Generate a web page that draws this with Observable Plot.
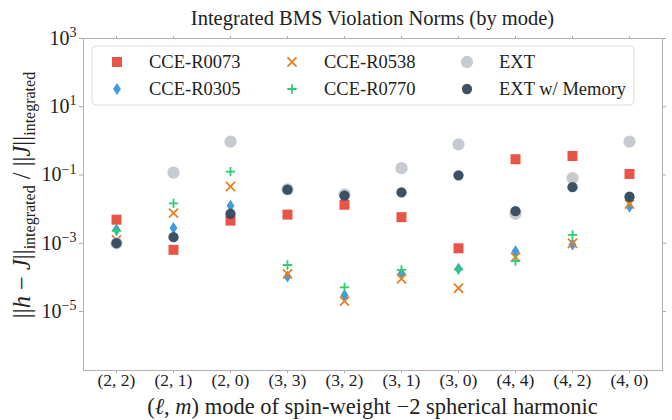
<!DOCTYPE html>
<html><head><meta charset="utf-8">
<script src="https://cdn.jsdelivr.net/npm/d3@7"></script>
<script src="https://cdn.jsdelivr.net/npm/@observablehq/plot@0.6"></script>
<style>
body{margin:0;background:#fff;}
#wrap{width:672px;height:420px;}
</style></head><body><div id="wrap"></div>
<script>
// ---- data ----
const modes = ["(2, 2)","(2, 1)","(2, 0)","(3, 3)","(3, 2)","(3, 1)","(3, 0)","(4, 4)","(4, 2)","(4, 0)"];
const cceR0073 = [4.9e-3, 6.4e-4, 4.6e-3, 6.9e-3, 1.34e-2, 5.8e-3, 7.1e-4, 0.29, 0.36, 0.107];
const cceR0305 = [2.5e-3, 2.8e-3, 1.25e-2, 1.06e-4, 3.0e-5, 1.3e-4, 1.78e-4, 5.8e-4, 9.2e-4, 1.17e-2];
const cceR0538 = [1.26e-3, 7.6e-3, 4.6e-2, 1.27e-4, 2.0e-5, 9.1e-5, 4.8e-5, 3.9e-4, 1.0e-3, 1.4e-2];
const cceR0770 = [2.3e-3, 1.48e-2, 0.126, 2.3e-4, 5.1e-5, 1.65e-4, 1.7e-4, 3.0e-4, 1.76e-3, 2.2e-2];
const ext = [1.0e-3, 0.117, 0.95, 0.038, 0.027, 0.158, 0.79, 7.3e-3, 0.081, 0.95];
const extMemory = [1.0e-3, 1.5e-3, 7.3e-3, 0.037, 0.025, 0.031, 0.098, 8.7e-3, 0.044, 0.023];
const yTicks = [1e3, 1e1, 1e-1, 1e-3, 1e-5];
const seriesNames = ["CCE-R0073","CCE-R0305","CCE-R0538","CCE-R0770","EXT","EXT w/ Memory"];

// ---- styles ----
const thinDiamond = {draw(ctx, size){ const h = Math.sqrt(size/1.3), w = 0.65*h;
  ctx.moveTo(0,-h); ctx.lineTo(w,0); ctx.lineTo(0,h); ctx.lineTo(-w,0); ctx.closePath(); }};
const styles = [
  {symbol: d3.symbolSquare, color:"#e74c3c", r:5.64, filled:true},
  {symbol: thinDiamond,     color:"#3498db", r:3.9,  filled:true},
  {symbol: d3.symbolTimes,  color:"#e67e22", r:4.2,  filled:false},
  {symbol: d3.symbolPlus,   color:"#2ecc71", r:3.1,  filled:false},
  {symbol: d3.symbolCircle, color:"#c3c8cf", r:6.15, filled:true},
  {symbol: d3.symbolCircle, color:"#34495e", r:5.15, filled:true}
];
const valuesList = [cceR0073, cceR0305, cceR0538, cceR0770, ext, extMemory];

const FONT = "'Liberation Serif', 'DejaVu Serif', serif";
const expOf = v => Math.round(Math.log10(v));

const dotMarks = valuesList.map((vals, k) => {
  const s = styles[k];
  const rows = modes.map((m, i) => ({mode: m, value: vals[i], series: seriesNames[k]}));
  return Plot.dot(rows, {x: "mode", y: "value", symbol: s.symbol, r: s.r,
    fill: s.filled ? s.color : "none", stroke: s.filled ? "none" : s.color,
    strokeWidth: s.filled ? 0 : 1.8, fillOpacity: 0.95});
});

const axisColor = "#aaaaaa";
const chart = Plot.plot({
  width: 672, height: 420,
  marginLeft: 83, marginRight: 10, marginTop: 38, marginBottom: 50,
  style: {fontFamily: FONT, background: "white", color: "#222"},
  x: {type: "point", domain: modes, padding: 0.53, label: null},
  y: {type: "log", domain: [Math.pow(10, -6.73), 1e3], label: null},
  marks: [
    Plot.axisX({anchor: "bottom", tickSize: 3, tickPadding: 0, fontSize: 17.5, stroke: axisColor, fill: "#222"}),
    Plot.axisX({anchor: "top", tickSize: 3, tickFormat: () => "", stroke: axisColor}),
    Plot.axisY({anchor: "left", ticks: yTicks, tickSize: 4, tickPadding: 3, fontSize: 20, stroke: axisColor, fill: "#222",
      tickFormat: v => "10^" + String(expOf(v)).replace("-", "\u2212")}),
    Plot.axisY({anchor: "right", ticks: yTicks, tickSize: 3, tickFormat: () => "", stroke: axisColor}),
    Plot.frame({stroke: "#b0b0b0", strokeWidth: 1}),
    ...dotMarks
  ]
});
document.getElementById("wrap").appendChild(chart);

const svg = d3.select(chart);
// superscript tick labels
svg.selectAll('g[aria-label="y-axis tick label"] text').each(function(){
  const t = this.textContent;
  if (!t.includes("^")) return;
  const [base, e] = t.split("^");
  const sel = d3.select(this); sel.text(null);
  sel.append("tspan").text(base);
  sel.append("tspan").attr("dy", "-0.55em").attr("font-size", "0.7em").text(e);
});

// title
svg.append("text").attr("x", 372.5).attr("y", 25).attr("text-anchor", "middle")
  .attr("font-family", FONT).attr("font-size", 20.5).attr("fill", "#222")
  .text("Integrated BMS Violation Norms (by mode)");

// x label
const xl = svg.append("text").attr("x", 372.5).attr("y", 414).attr("text-anchor", "middle")
  .attr("font-family", FONT).attr("font-size", 22.5).attr("fill", "#222");
xl.append("tspan").text("(");
xl.append("tspan").attr("font-style", "italic").text("\u2113");
xl.append("tspan").text(", ");
xl.append("tspan").attr("font-style", "italic").text("m");
xl.append("tspan").text(") mode of spin-weight \u22122 spherical harmonic");

// y label
const yl = svg.append("text").attr("transform", "translate(30,195) rotate(-90)").attr("text-anchor", "middle")
  .attr("font-family", FONT).attr("font-size", 24.5).attr("fill", "#222");
yl.append("tspan").text("||");
yl.append("tspan").attr("font-style", "italic").text("h");
yl.append("tspan").text(" \u2212 ");
yl.append("tspan").attr("font-style", "italic").text("J");
yl.append("tspan").text("||");
yl.append("tspan").attr("font-size", 16).attr("dy", 5).text("integrated");
yl.append("tspan").attr("dy", -5).text(" / ||");
yl.append("tspan").attr("font-style", "italic").text("J");
yl.append("tspan").text("||");
yl.append("tspan").attr("font-size", 16).attr("dy", 5).text("integrated");

// legend
const lg = svg.append("g").attr("text-anchor", "start");
lg.append("rect").attr("x", 92).attr("y", 46).attr("width", 542).attr("height", 59).attr("rx", 4)
  .attr("fill", "white").attr("fill-opacity", 0.8).attr("stroke", "#dcdcdc");
const colMarker = [117, 292, 467], colText = [149, 324, 499], rowY = [62, 89];
seriesNames.forEach((name, k) => {
  const s = styles[k], c = Math.floor(k / 2), r = k % 2;
  lg.append("path").attr("transform", `translate(${colMarker[c]},${rowY[r]})`)
    .attr("d", d3.symbol(s.symbol, Math.PI * s.r * s.r)())
    .attr("fill", s.filled ? s.color : "none").attr("stroke", s.filled ? "none" : s.color)
    .attr("stroke-width", s.filled ? 0 : 1.8).attr("fill-opacity", 0.95);
  lg.append("text").attr("x", colText[c]).attr("y", rowY[r]).attr("dy", "0.35em")
    .attr("text-anchor", "start")
    .attr("font-family", FONT).attr("font-size", 18.5).attr("fill", "#222").text(name);
});
</script></body></html>
